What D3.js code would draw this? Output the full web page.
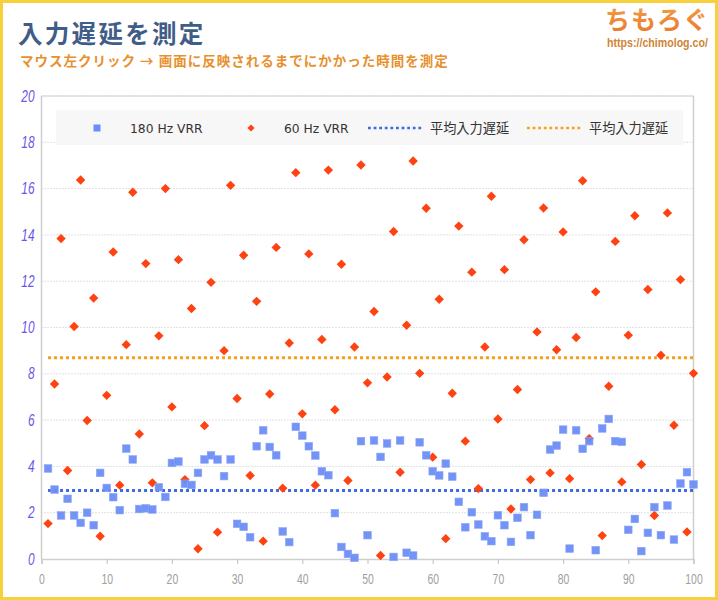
<!DOCTYPE html>
<html><head><meta charset="utf-8">
<script src="https://cdn.jsdelivr.net/npm/d3@7"></script>
<style>
html,body{margin:0;padding:0;background:#fff;}
svg{display:block;}
</style></head>
<body>
<script>
// ---- data ----
const trials = d3.range(1, 101);
const seriesNames = ["180 Hz VRR", "60 Hz VRR"];
const avgLabel = "平均入力遅延";
const vrr180 = [3.91,3.0,1.88,2.6,1.88,1.56,2.0,1.46,3.72,3.07,
  2.67,2.11,4.77,4.30,2.16,2.19,2.14,3.1,2.68,4.15,
  4.21,3.25,3.2,3.72,4.30,4.48,4.30,3.58,4.30,1.52,
  1.39,0.94,4.87,5.56,4.84,4.48,1.19,0.73,5.71,5.33,
  4.87,4.47,3.79,3.62,1.98,0.52,0.22,0.05,5.09,1.03,
  5.12,4.41,4.99,0.09,5.12,0.27,0.15,5.04,4.48,3.79,
  3.61,4.12,3.56,2.47,1.37,2.02,1.49,0.98,0.77,1.89,
  1.46,0.74,1.78,2.24,1.03,1.91,2.86,4.73,4.90,5.59,
  0.45,5.56,4.76,5.09,0.38,5.64,6.05,5.09,5.06,1.26,
  1.73,0.34,1.13,2.24,1.03,2.31,0.84,3.26,3.75,3.22];
const vrr60 = [1.53,7.56,13.84,3.82,10.04,16.37,5.98,11.27,0.98,7.07,
  13.26,3.19,9.26,15.84,5.40,12.76,3.29,9.64,16.0,6.57,
  12.93,3.43,10.82,0.44,5.76,11.95,1.16,9.0,16.14,6.93,
  13.12,3.61,11.13,0.77,7.13,13.46,3.06,9.33,16.69,6.27,
  13.18,3.19,9.48,16.80,6.45,12.73,3.39,9.16,17.02,7.61,
  10.69,0.15,7.86,14.15,3.75,10.10,17.19,8.02,15.15,4.40,
  11.22,0.88,7.16,14.38,5.09,12.39,3.04,9.16,15.67,6.05,
  12.50,2.16,7.32,13.79,3.43,9.81,15.16,3.72,9.04,14.13,
  3.47,9.57,16.34,5.20,11.54,1.01,7.46,13.72,3.33,9.67,
  14.83,4.08,11.64,1.88,8.80,14.95,5.78,12.07,1.17,8.02];
const averages = [2.96, 8.69];
const xTicks = [0,10,20,30,40,50,60,70,80,90,100];
const yTicks = [0,2,4,6,8,10,12,14,16,18,20];

// ---- layout ----
const W = 718, H = 600;
const svg = d3.select("body").append("svg").attr("width", W).attr("height", H);
svg.append("rect").attr("x",1.5).attr("y",1.5).attr("width",W-3).attr("height",H-3)
  .attr("fill","#fff").attr("stroke","#f7d03c").attr("stroke-width",3);

const x = d3.scaleLinear().domain([0,100]).range([41.5,693.5]);
const y = d3.scaleLinear().domain([0,20]).range([559,96]);

const blue = "#6b8df5", red = "#ff4212", blueLine = "#3f6ae6", orangeLine = "#f9a01b";

// title
svg.append("text").attr("x",18).attr("y",43)
  .attr("font-family","'Noto Sans CJK JP'").attr("font-weight",700)
  .attr("font-size",24.5).attr("letter-spacing",2.3).attr("fill","#3f5d87")
  .text("入力遅延を測定");
svg.append("text").attr("x",20).attr("y",66)
  .attr("font-family","'Noto Sans CJK JP'").attr("font-weight",700)
  .attr("font-size",13.5).attr("letter-spacing",1.0).attr("fill","#e8902c")
  .text("マウス左クリック → 画面に反映されるまでにかかった時間を測定");
// logo
const grad = svg.append("defs").append("linearGradient").attr("id","lg")
  .attr("x1",0).attr("y1",0).attr("x2",0).attr("y2",1);
grad.append("stop").attr("offset","0%").attr("stop-color","#f5a048");
grad.append("stop").attr("offset","100%").attr("stop-color","#e8782c");
svg.append("text").attr("x",605).attr("y",29)
  .attr("font-family","'Noto Sans CJK JP'").attr("font-weight",700)
  .attr("font-size",25).attr("letter-spacing",1).attr("fill","url(#lg)")
  .text("ちもろぐ");
const urlG = svg.append("g");
const urlT = urlG.append("text").attr("x",0).attr("y",0)
  .attr("font-family","'Liberation Sans Narrow','Liberation Sans'").attr("font-weight",700)
  .attr("font-size",12.5).attr("fill","#cf8436").text("https://chimolog.co/");
const urlLen = urlT.node().getComputedTextLength();
urlG.attr("transform",`translate(607,47) scale(${101/urlLen},1)`);

// gridlines
const g = svg.append("g");
g.selectAll("line.grid").data(yTicks.filter(d=>d>0)).join("line")
  .attr("x1",x(0)).attr("x2",x(100)).attr("y1",d=>y(d)).attr("y2",d=>y(d))
  .attr("stroke","#c4c4c4").attr("stroke-width",1).attr("stroke-dasharray","1,2");
// plot frame
g.append("line").attr("x1",x(0)).attr("x2",x(100)).attr("y1",y(20)).attr("y2",y(20))
  .attr("stroke","#d0d0d0").attr("stroke-width",1);
g.append("line").attr("x1",x(100)).attr("x2",x(100)).attr("y1",y(20)).attr("y2",y(0))
  .attr("stroke","#d0d0d0").attr("stroke-width",1.5);
g.append("line").attr("x1",x(0)).attr("x2",x(0)).attr("y1",y(20)).attr("y2",y(0))
  .attr("stroke","#cfcfcf").attr("stroke-width",1.5);

// x axis
const xAxis = svg.append("g").attr("transform",`translate(0,${y(0)})`)
  .call(d3.axisBottom(x).tickValues(xTicks).tickSize(5).tickPadding(6).tickFormat(d3.format("d")));
xAxis.select(".domain").attr("stroke","#cfcfcf").attr("stroke-width",1.5);
xAxis.selectAll(".tick line").attr("stroke","#c8c8c8").attr("stroke-width",1.2);
xAxis.selectAll(".tick text").attr("fill","#a0a0a0")
  .attr("font-family","'Liberation Sans Narrow','Liberation Sans'").attr("font-size",15)
  .attr("dy","0.95em")
  .attr("textLength",function(d){return String(d).length*5.8;})
  .attr("lengthAdjust","spacingAndGlyphs");

// y axis labels
const yAxis = svg.append("g").attr("transform",`translate(${x(0)},0)`)
  .call(d3.axisLeft(y).tickValues(yTicks).tickSize(0).tickPadding(7).tickFormat(d3.format("d")));
yAxis.select(".domain").remove();
yAxis.selectAll(".tick text").attr("fill","#6b57e6").attr("font-style","italic")
  .attr("font-family","'Liberation Sans Narrow','Liberation Sans'").attr("font-size",16)
  .attr("textLength",function(d){return String(d).length*6.6;})
  .attr("lengthAdjust","spacingAndGlyphs");

// average lines
const avgColors = [blueLine, orangeLine];
svg.selectAll("line.avg").data(averages).join("line")
  .attr("x1",x(1)).attr("x2",x(100)).attr("y1",d=>y(d)).attr("y2",d=>y(d))
  .attr("stroke",(d,i)=>avgColors[i]).attr("stroke-width",3).attr("stroke-dasharray","3,3");

// points: red diamonds then blue squares
const diamond = (cx,cy,r) => `M${cx},${cy-r}L${cx+r},${cy}L${cx},${cy+r}L${cx-r},${cy}Z`;
svg.append("g").selectAll("path").data(trials).join("path")
  .attr("d",(d,i)=>diamond(x(d),y(vrr60[i]),4.7)).attr("fill",red);
svg.append("g").selectAll("rect").data(trials).join("rect")
  .attr("x",(d,i)=>x(d)-3.8).attr("y",(d,i)=>y(vrr180[i])-3.8)
  .attr("width",7.6).attr("height",7.6).attr("fill",blue).attr("fill-opacity",0.95)
  .attr("stroke","#8aa6f8").attr("stroke-width",0.6);

// legend
const lg = svg.append("g");
lg.append("rect").attr("x",56).attr("y",110).attr("width",627).attr("height",35).attr("fill","#f7f7f7");
lg.append("rect").attr("x",93.5).attr("y",124.5).attr("width",7).attr("height",7).attr("fill",blue);
lg.append("path").attr("d",diamond(251,128,3.6)).attr("fill",red);
lg.append("line").attr("x1",368).attr("x2",424).attr("y1",128).attr("y2",128)
  .attr("stroke",blueLine).attr("stroke-width",2.5).attr("stroke-dasharray","2.8,2.8");
lg.append("line").attr("x1",527).attr("x2",583).attr("y1",128).attr("y2",128)
  .attr("stroke",orangeLine).attr("stroke-width",2.5).attr("stroke-dasharray","2.8,2.8");
const legTexts = [
  {t: seriesNames[0], x:130}, {t: seriesNames[1], x:284},
  {t: avgLabel, x:430}, {t: avgLabel, x:589}];
lg.selectAll("text").data(legTexts).join("text")
  .attr("x",d=>d.x).attr("y",133)
  .attr("font-family",d=>/[A-Za-z]/.test(d.t) ? "'DejaVu Sans'" : "'Noto Sans CJK JP'")
  .attr("font-size",d=>/[A-Za-z]/.test(d.t) ? 12.3 : 13.2)
  .attr("fill","#333").text(d=>d.t);
</script>
</body></html>
